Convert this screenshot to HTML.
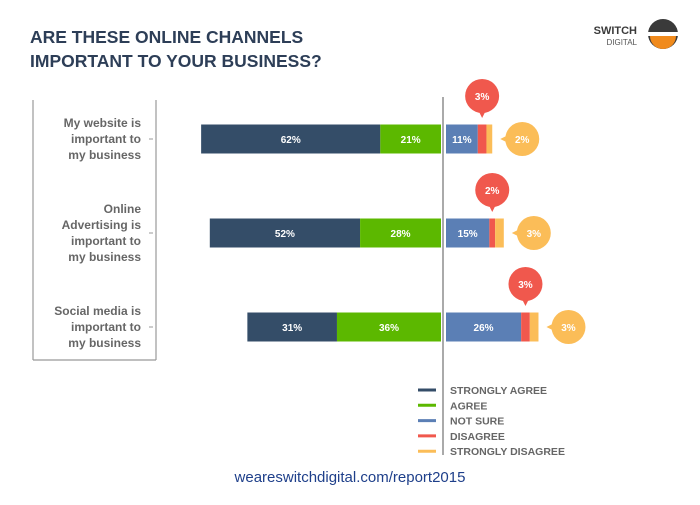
<!DOCTYPE html>
<html><head><meta charset="utf-8"><style>
body{margin:0;width:700px;height:500px;background:#fff;overflow:hidden;font-family:"Liberation Sans",sans-serif}
</style></head><body>
<svg width="700" height="500">
<text x="30" y="43" font-size="17.5" font-weight="bold" fill="#2d3e57">ARE THESE ONLINE CHANNELS</text>
<text x="30" y="67" font-size="17.5" font-weight="bold" fill="#2d3e57">IMPORTANT TO YOUR BUSINESS?</text>
<g>
<text x="637" y="34" font-size="11" font-weight="bold" fill="#3a3a3a" text-anchor="end">SWITCH</text>
<text x="637" y="45" font-size="8" fill="#555" text-anchor="end">DIGITAL</text>
<circle cx="663" cy="34" r="15" fill="#3a3a3a"/>
<rect x="648" y="32" width="30" height="4" fill="#fff"/>
<path d="M650 36 h26 a13 13 0 0 1 -26 0z" fill="#f08a1c"/>
</g>
<g stroke="#999" stroke-width="1.2">
<line x1="33" y1="100" x2="33" y2="360"/><line x1="156" y1="100" x2="156" y2="360"/><line x1="33" y1="360" x2="156" y2="360"/>
</g>
<line x1="443" y1="97" x2="443" y2="455" stroke="#aaa" stroke-width="2"/>
<g id="plot"></g>
<g id="legend"></g>
<text x="350" y="482" font-size="15" fill="#1e3f8a" text-anchor="middle">weareswitchdigital.com/report2015</text>
</svg>
<script>
const categories=[["My website is","important to","my business"],["Online","Advertising is","important to","my business"],["Social media is","important to","my business"]];
const stronglyAgree=[62,52,31];
const agree=[21,28,36];
const notSure=[11,15,26];
const disagree=[3,2,3];
const stronglyDisagree=[2,3,3];
const seriesNames=["STRONGLY AGREE","AGREE","NOT SURE","DISAGREE","STRONGLY DISAGREE"];
const colors=["#344d68","#5cb800","#5b7fb5","#f0584d","#fbbd58"];
const NS="http://www.w3.org/2000/svg";
const pxPer=2.89, zeroL=441, zeroR=446, rowY=[139,233,327], bh=29;
const x=v=>v*pxPer;
const plot=document.getElementById('plot');
function mk(t,a,p){const e=document.createElementNS(NS,t);for(const k in a)e.setAttribute(k,a[k]);(p||plot).appendChild(e);return e;}
function lbl(px,py,s,p){const t=mk('text',{x:px,y:py+4,'font-size':10,'font-weight':'bold',fill:'#fff','text-anchor':'middle'},p);t.textContent=s;return t;}
categories.forEach((c,i)=>{
 const cy=rowY[i];
 const lines=c.length, y0=cy-(lines-1)*8;
 c.forEach((l,j)=>{const t=mk('text',{x:141,y:y0+j*16+4,'font-size':12,'font-weight':'bold',fill:'#666','text-anchor':'end'});
 
 
 t.textContent=l;});
 mk('line',{x1:149,y1:cy,x2:153,y2:cy,stroke:'#999'});
 const top=cy-bh/2;
 const wA=x(agree[i]), wS=x(stronglyAgree[i]);
 let r=mk('rect',{x:zeroL-wA-wS,y:top,width:wS,height:bh,fill:colors[0]});
 
 
 lbl(zeroL-wA-wS/2,cy,stronglyAgree[i]+'%');
 r=mk('rect',{x:zeroL-wA,y:top,width:wA,height:bh,fill:colors[1]});
 
 
 lbl(zeroL-wA/2,cy,agree[i]+'%');
 const wN=x(notSure[i]),wD=x(disagree[i]),wSD=x(stronglyDisagree[i]);
 r=mk('rect',{x:zeroR,y:top,width:wN,height:bh,fill:colors[2]});
 
 
 lbl(zeroR+wN/2,cy,notSure[i]+'%');
 r=mk('rect',{x:zeroR+wN,y:top,width:wD,height:bh,fill:colors[3]});
 
 
 r=mk('rect',{x:zeroR+wN+wD,y:top,width:wSD,height:bh,fill:colors[4]});
 
 
 const dx=zeroR+wN+wD/2, by=cy-43;
 let g=mk('g',{});
 
 
 mk('circle',{cx:dx,cy:by,r:17,fill:colors[3]},g);
 mk('path',{d:`M${dx-4} ${by+14} L${dx} ${by+22} L${dx+4} ${by+14}z`,fill:colors[3]},g);
 lbl(dx,by,disagree[i]+'%',g);
 const ex=zeroR+wN+wD+wSD+30;
 g=mk('g',{});
 
 
 mk('circle',{cx:ex,cy:cy,r:17,fill:colors[4]},g);
 mk('path',{d:`M${ex-14} ${cy-4} L${ex-22} ${cy} L${ex-14} ${cy+4}z`,fill:colors[4]},g);
 lbl(ex,cy,stronglyDisagree[i]+'%',g);
});
const leg=document.getElementById('legend');
seriesNames.forEach((s,i)=>{
 const y=390+i*15.3;
 const g=mk('g',{},leg);
 
 
 mk('line',{x1:418,y1:y,x2:436,y2:y,stroke:colors[i],'stroke-width':3},g);
 const t=mk('text',{x:450,y:y+4,'font-size':10.5,'font-weight':'bold',fill:'#666'},g);t.textContent=s;
});
</script>
</body></html>
